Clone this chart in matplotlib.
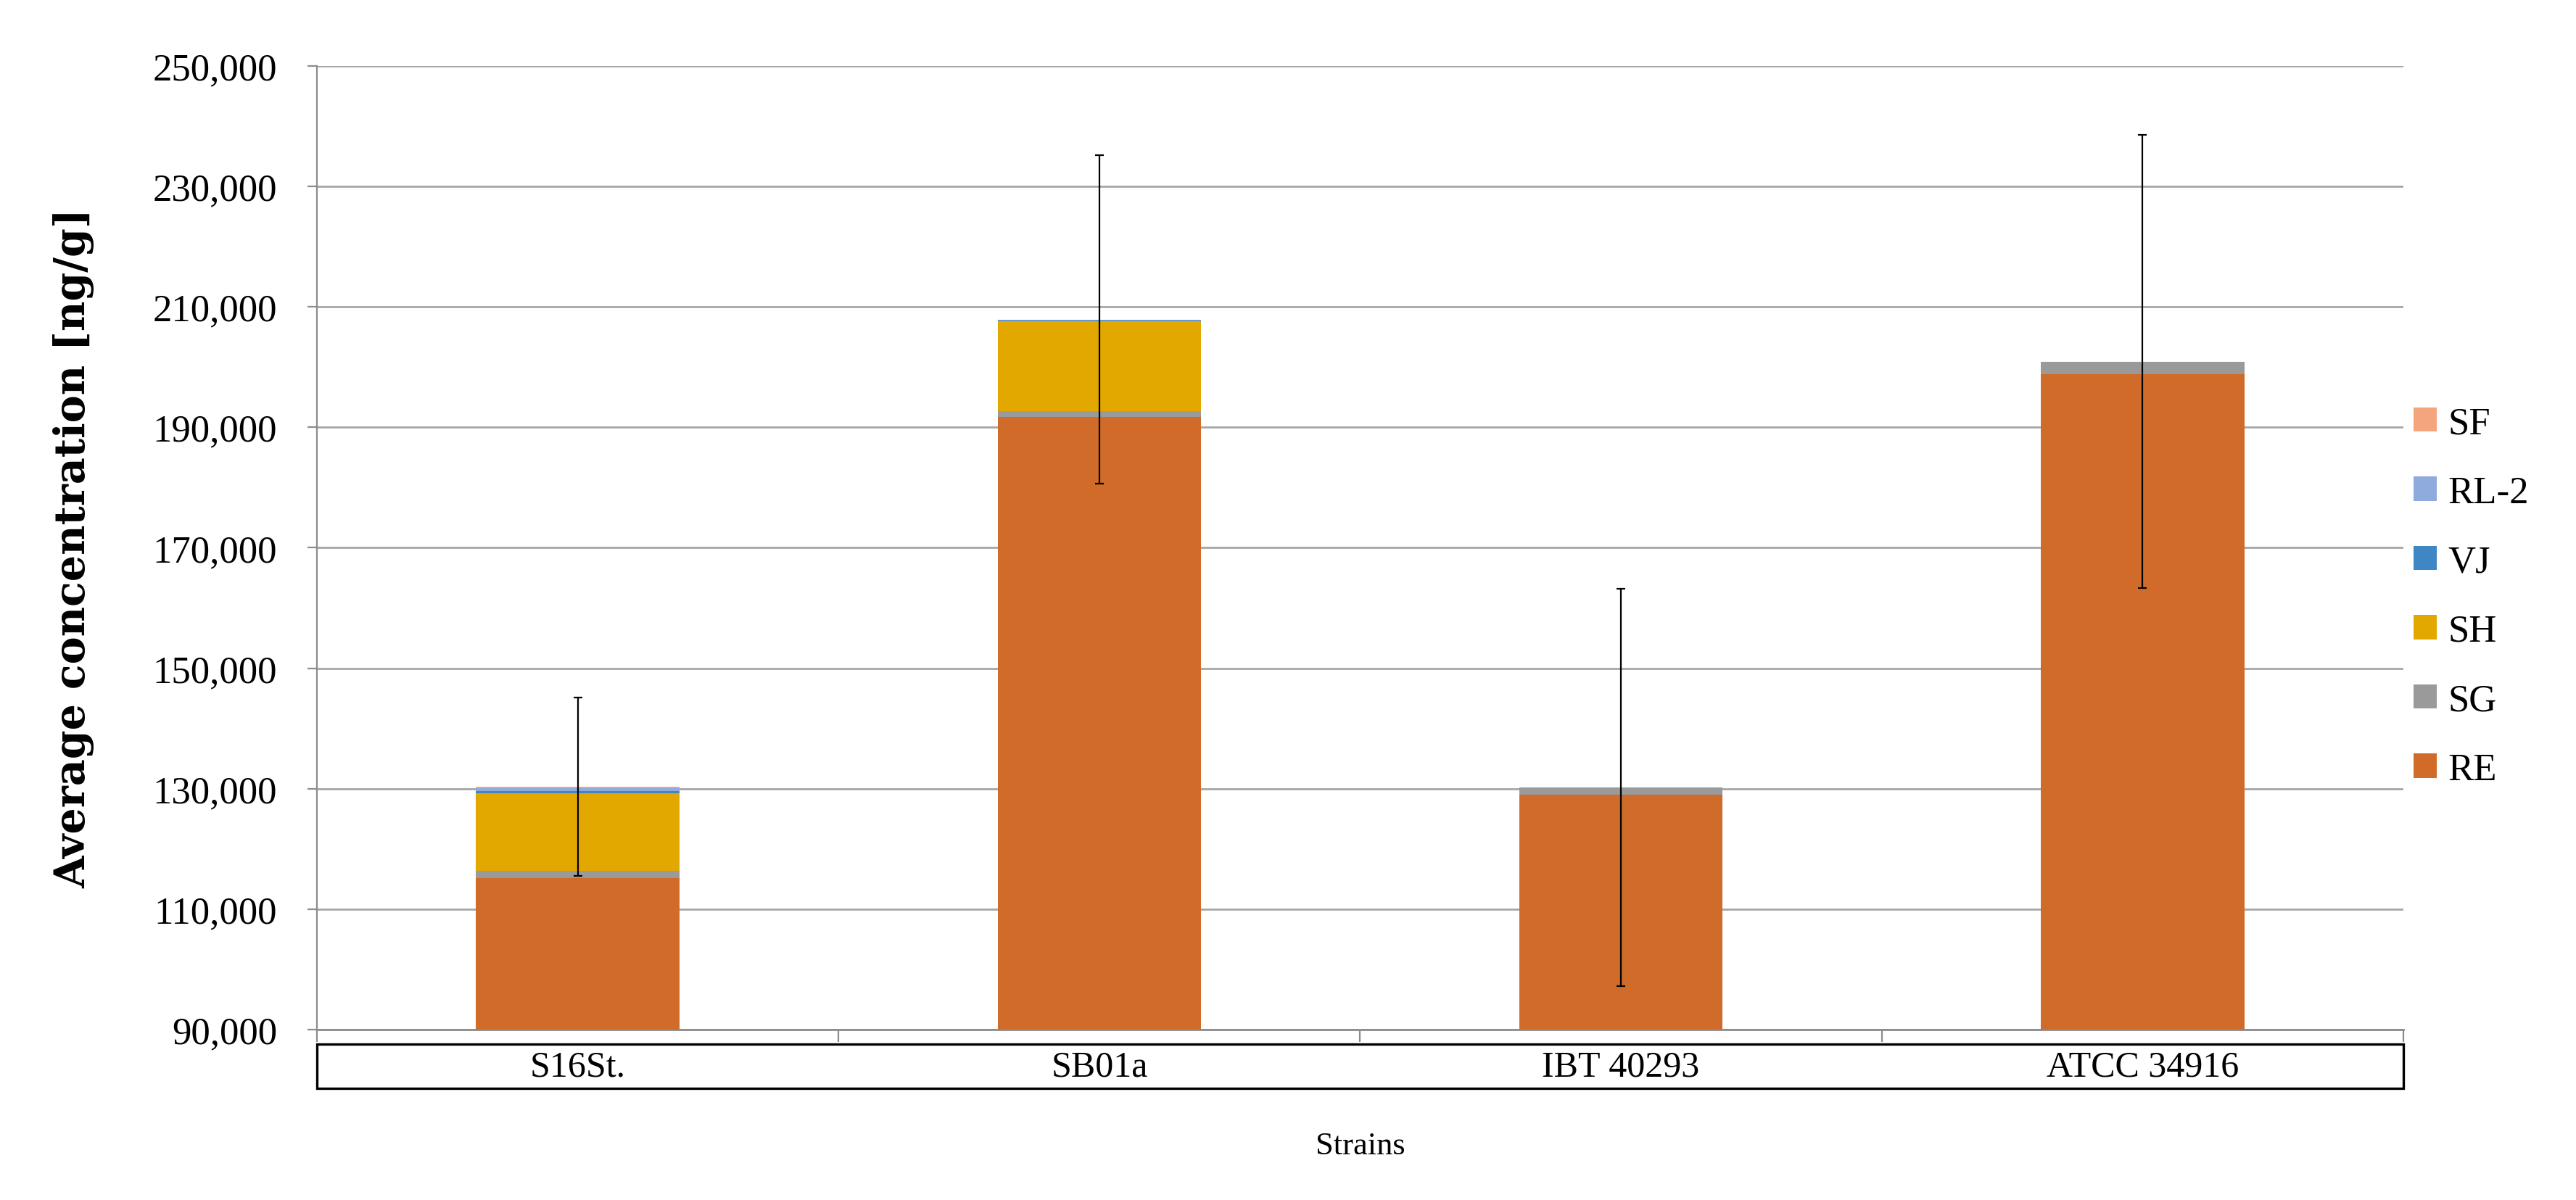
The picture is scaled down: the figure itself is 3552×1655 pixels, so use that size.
import matplotlib
matplotlib.use('Agg')
import matplotlib.pyplot as plt
from matplotlib.patches import Patch, Rectangle
from matplotlib.ticker import FuncFormatter, FixedLocator
import numpy as np

# strains on the x axis
strains = ['S16St.', 'SB01a', 'IBT 40293', 'ATCC 34916']

# stacked components (ng/g), bottom to top
re_vals = [115200, 191700, 129000, 198800]
sg_vals = [1200, 1000, 1200, 2100]
sh_vals = [12900, 14900, 0, 0]
vj_vals = [300, 100, 0, 0]
rl2_vals = [500, 100, 0, 0]
sf_vals = [200, 100, 0, 0]

# error (+/-) on the total
err_vals = [14800, 27300, 33000, 37600]

series_names = ['RE', 'SG', 'SH', 'VJ', 'RL-2', 'SF']
series_vals = [re_vals, sg_vals, sh_vals, vj_vals, rl2_vals, sf_vals]
colors = ['#D06B2A', '#9A9A9A', '#E2A800', '#3E86C4', '#8FAADC', '#F4A57E']

plt.rcParams['font.family'] = ['Liberation Serif', 'DejaVu Serif']

fig = plt.figure(figsize=(17.76, 8.28), dpi=200)
ax = fig.add_axes([0.1230, 0.1419, 0.8100, 0.8027])

x = np.arange(len(strains))
bottom = np.zeros(len(strains))
for name, vals, c in zip(series_names, series_vals, colors):
    v = np.array(vals, dtype=float)
    ax.bar(x, v, 0.39, bottom=bottom + 0, color=c, zorder=3, linewidth=0)
    bottom = bottom + v

# error bars on stacked total
ax.errorbar(x, bottom, yerr=err_vals, fmt='none', ecolor='black',
            elinewidth=0.8, capsize=2.2, capthick=0.8, zorder=4)

ax.set_ylim(90000, 250000)
ax.set_xlim(-0.5, 3.5)
ax.set_yticks(np.arange(90000, 250001, 20000))
ax.yaxis.set_major_formatter(FuncFormatter(lambda v, p: '{:,.0f}'.format(v)))
ax.tick_params(axis='y', labelsize=19, length=4.7, width=0.8, color='#8C8C8C', pad=15)
ax.yaxis.grid(True, color='#A6A6A6', linewidth=1.0, zorder=0)
ax.set_axisbelow(True)

ax.set_xticks(x)
ax.set_xticklabels(strains, fontsize=18)
ax.tick_params(axis='x', which='major', length=0, pad=10)
ax.xaxis.set_minor_locator(FixedLocator(np.arange(-0.5, 3.6, 1.0)))
ax.tick_params(axis='x', which='minor', length=6, width=0.8, color='#8C8C8C')

for s in ['top', 'right']:
    ax.spines[s].set_visible(False)
ax.spines['left'].set_color('#8C8C8C')
ax.spines['bottom'].set_color('#8C8C8C')
ax.spines['left'].set_linewidth(0.8)
ax.spines['bottom'].set_linewidth(1.0)

# box around the category labels
ax.add_patch(Rectangle((0, -0.061), 1, 0.046, transform=ax.transAxes,
                       fill=False, edgecolor='black', linewidth=1.2, clip_on=False))

ax.set_xlabel('Strains', fontsize=16)
ax.xaxis.set_label_coords(0.5, -0.105)
ax.set_ylabel('Average concentration [ng/g]', fontsize=20.5, fontweight='bold',
              family=['DejaVu Serif'])
ax.yaxis.set_label_coords(-0.1065, 0.5)

handles = [Patch(facecolor=c, label=n) for n, c in zip(series_names, colors)]
fig.legend(handles=handles[::-1], loc='center left', bbox_to_anchor=(0.931, 0.5025),
           frameon=False, fontsize=19, handlelength=0.6, handleheight=0.6,
           handletextpad=0.3, labelspacing=0.9, borderaxespad=0)

fig.savefig('out.png', dpi=200)
